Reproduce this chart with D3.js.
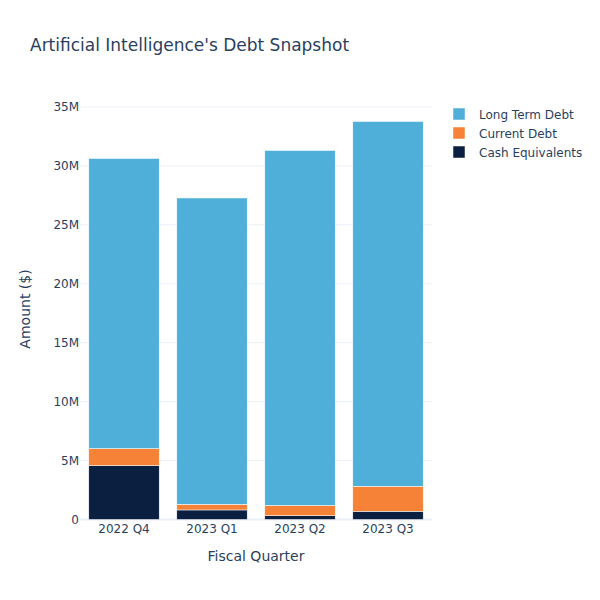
<!DOCTYPE html>
<html>
<head>
<meta charset="utf-8">
<script src="https://cdn.jsdelivr.net/npm/d3@7"></script>
<style>
body { margin: 0; background: #fff; }
text { font-family: "DejaVu Sans", sans-serif; fill: #2a3f5f; }
</style>
</head>
<body>
<script>
var quarters = ["2022 Q4", "2023 Q1", "2023 Q2", "2023 Q3"];
var cashEquivalents = [4.58, 0.81, 0.32, 0.70];
var currentDebt = [1.44, 0.48, 0.88, 2.12];
var longTermDebt = [24.61, 25.99, 30.11, 30.95];
var yTicks = [0, 5, 10, 15, 20, 25, 30, 35];

var series = [
	{name: "Cash Equivalents", vals: cashEquivalents, color: "#0b1f40"},
	{name: "Current Debt", vals: currentDebt, color: "#f58236"},
	{name: "Long Term Debt", vals: longTermDebt, color: "#50afd8"}
];

var w = 600, h = 600;
var plotLeft = 80, plotRight = 432, plotTop = 107, plotBottom = 519.5;

var svg = d3.select("body").append("svg").attr("width", w).attr("height", h);

var x = d3.scaleBand().domain(quarters).range([plotLeft, plotRight]).paddingInner(0.2).paddingOuter(0.1);
var y = d3.scaleLinear().domain([0, 35]).range([plotBottom, plotTop]);

// grid
svg.selectAll(".grid").data(yTicks).enter().append("line")
	.attr("x1", plotLeft).attr("x2", plotRight)
	.attr("y1", function(d) { return y(d); })
	.attr("y2", function(d) { return y(d); })
	.attr("stroke", "#ebf0f8")
	.attr("stroke-width", function(d) { return d == 0 ? 2 : 1; });

// stacked bars
var rows = quarters.map(function(q, i) {
	var r = {q: q};
	series.forEach(function(s) { r[s.name] = s.vals[i]; });
	return r;
});
var stack = d3.stack().keys(series.map(function(s) { return s.name; }))(rows);

stack.forEach(function(layer, li) {
	svg.selectAll(".bar" + li).data(layer).enter().append("rect")
		.attr("x", function(d) { return x(d.data.q); })
		.attr("width", x.bandwidth())
		.attr("y", function(d) { return y(d[1]); })
		.attr("height", function(d) { return y(d[0]) - y(d[1]); })
		.attr("fill", series[li].color)
		.attr("stroke", "#fff")
		.attr("stroke-width", 0.5);
});

// y axis labels
svg.selectAll(".ytick").data(yTicks).enter().append("text")
	.attr("x", plotLeft - 1)
	.attr("y", function(d) { return y(d) + 4; })
	.attr("text-anchor", "end")
	.attr("font-size", "12px")
	.text(function(d) { return d == 0 ? "0" : d + "M"; });

// x axis labels
svg.selectAll(".xtick").data(quarters).enter().append("text")
	.attr("x", function(d) { return x(d) + x.bandwidth() / 2; })
	.attr("y", plotBottom + 13)
	.attr("text-anchor", "middle")
	.attr("font-size", "12px")
	.text(function(d) { return d; });

svg.append("text")
	.attr("x", (plotLeft + plotRight) / 2).attr("y", 561)
	.attr("text-anchor", "middle").attr("font-size", "14px")
	.text("Fiscal Quarter");

svg.append("text")
	.attr("transform", "translate(30,309) rotate(-90)")
	.attr("text-anchor", "middle").attr("font-size", "14px")
	.text("Amount ($)");

svg.append("text")
	.attr("x", 30).attr("y", 51)
	.attr("font-size", "17px")
	.text("Artificial Intelligence's Debt Snapshot");

// legend
var legend = series.slice().reverse();
var lg = svg.selectAll(".legend").data(legend).enter().append("g")
	.attr("transform", function(d, i) { return "translate(453," + (114 + i * 19) + ")"; });
lg.append("rect")
	.attr("x", 0).attr("y", -6).attr("width", 12).attr("height", 12)
	.attr("fill", function(d) { return d.color; })
	.attr("stroke", "#fff").attr("stroke-width", 0.5);
lg.append("text")
	.attr("x", 26).attr("y", 4.5)
	.attr("font-size", "12px")
	.text(function(d) { return d.name; });
</script>
</body>
</html>
